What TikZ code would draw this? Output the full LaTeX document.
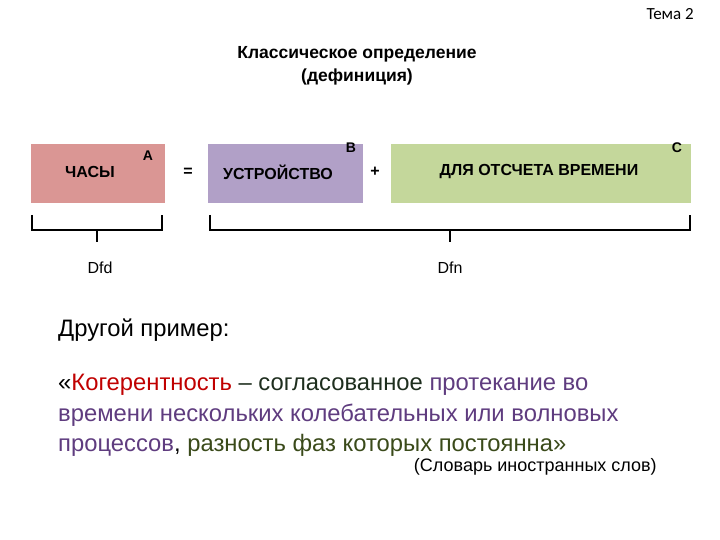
\documentclass[tikz,border=0pt]{standalone}
\usepackage{fontspec}
\setmainfont{Liberation Sans}
\newfontfamily\carlitofont{Carlito}
\definecolor{boxA}{HTML}{DA9694}
\definecolor{boxB}{HTML}{B1A0C7}
\definecolor{boxC}{HTML}{C4D79B}
\definecolor{kred}{HTML}{C00000}
\definecolor{kpur}{HTML}{5F3C7F}
\definecolor{kgrn}{HTML}{3A4A1A}
\definecolor{kdk}{HTML}{1E2E1E}
\begin{document}
\begin{tikzpicture}[x=1pt,y=-1pt,
  box/.style={draw=white,line width=0.8pt,anchor=north west,inner sep=0pt},
  bt/.style={font=\fontsize{16}{18}\selectfont\bfseries},
  lt/.style={font=\fontsize{14}{16}\selectfont\bfseries},
  brace/.style={line width=1.3pt},
  para/.style={anchor=west,inner sep=0pt,font=\fontsize{23.8}{26}\selectfont}]
\useasboundingbox (0,0) rectangle (720,540);
\node[anchor=east,inner sep=0pt,font=\carlitofont\fontsize{17}{19}\selectfont] (tema) at (694,14) {Тема 2};
\node[align=center,font=\fontsize{17.5}{23}\selectfont\bfseries] (title) at (357,66) {Классическое определение\\(дефиниция)};
\node[box,fill=boxA,minimum width=135,minimum height=60] (A) at (30,143) {};
\node[box,fill=boxB,minimum width=156,minimum height=60] (B) at (207,143) {};
\node[box,fill=boxC,minimum width=301,minimum height=60] (C) at (390,143) {};
\node[bt] (ta) at (90,172) {ЧАСЫ};
\node[bt] (tb) at (278,172) {УСТРОЙСТВО};
\node[bt] (tc) at (539,172) {ДЛЯ ОТСЧЕТА ВРЕМЕНИ};
\node[lt] (la) at (148,156) {A};
\node[lt] (lb) at (351,148) {B};
\node[lt] (lc) at (677,148) {C};
\node[bt] (eq) at (188,172) {=};
\node[bt] (pl) at (375,172) {+};
\coordinate (b1l) at (32,215); \coordinate (b1r) at (162,215);
\coordinate (b2l) at (210,215); \coordinate (b2r) at (690,215);
\draw[brace] (b1l) -- ++(0,15) -- (97,230) -- ++(0,12) (97,230) -- (162,230) -- (b1r);
\draw[brace] (b2l) -- ++(0,15) -- (450,230) -- ++(0,12) (450,230) -- (690,230) -- (b2r);
\node[font=\fontsize{16}{18}\selectfont] (dfd) at (100,268) {Dfd};
\node[font=\fontsize{16}{18}\selectfont] (dfn) at (450,268) {Dfn};
\node[para] (other) at (58,330) {Другой пример:};
\node[para] (p1) at (58,385) {«\textcolor{kred}{Когерентность}\ \textcolor{kdk}{–~согласованное}\ \textcolor{kpur}{протекание во}};
\node[para,text=kpur] (p2) at (58,415) {времени нескольких колебательных или волновых};
\node[para] (p3) at (58,445) {\textcolor{kpur}{процессов}, \textcolor{kgrn}{разность фаз которых постоянна»}};
\node[anchor=east,inner sep=0pt,font=\fontsize{18}{20}\selectfont] (src) at (657,467) {(Словарь иностранных слов)};
\end{tikzpicture}
\end{document}
